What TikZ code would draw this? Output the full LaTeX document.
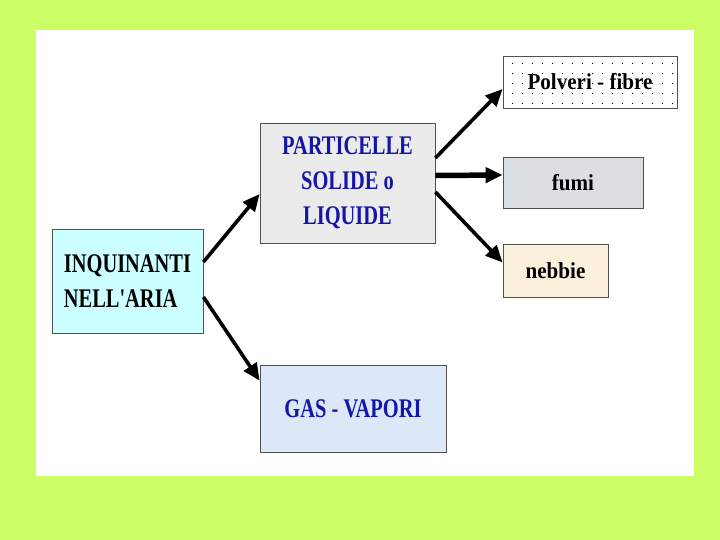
\documentclass[tikz,border=0pt]{standalone}
\usepackage{fontspec}
\newfontfamily\capsfont{Liberation Serif}[FakeStretch=0.76]
\newfontfamily\lowfont{Liberation Serif}[FakeStretch=0.92]
\usetikzlibrary{arrows.meta,patterns.meta}

\definecolor{slidebg}{HTML}{CCFF66}
\definecolor{inqfill}{HTML}{CCFFFF}
\definecolor{partfill}{HTML}{EBEBEB}
\definecolor{gasfill}{HTML}{DCE8F8}
\definecolor{fumifill}{HTML}{DCDFE2}
\definecolor{nebfill}{HTML}{FBF0DC}
\definecolor{boxtext}{HTML}{1515A8}
\definecolor{boxline}{HTML}{505050}

\tikzset{
  box/.style={draw=boxline,line width=0.8pt,inner sep=0pt,anchor=center},
  bigtext/.style={font=\capsfont\bfseries\fontsize{27}{35}\selectfont},
  smalltext/.style={font=\lowfont\bfseries\fontsize{23}{28}\selectfont},
  link/.style={line width=3.6pt,-{Triangle[length=17bp,width=15bp]}}
}

\begin{document}
\begin{tikzpicture}[x=1bp,y=-1bp]
  % slide background and white panel
  \fill[slidebg] (0,0) rectangle (720,540);
  \fill[white] (36,30) rectangle (694,476);

  % main boxes
  \node[box,bigtext,fill=inqfill,minimum width=151bp,minimum height=104bp,align=left]
    (inq) at (127.5,281) {INQUINANTI\\NELL'ARIA};
  \node[box,bigtext,fill=partfill,text=boxtext,minimum width=175bp,minimum height=120bp,align=center]
    (part) at (347.5,183) {PARTICELLE\\SOLIDE o\\LIQUIDE};
  \node[box,bigtext,fill=gasfill,text=boxtext,minimum width=186bp,minimum height=87bp]
    (gas) at (353,408.5) {GAS - VAPORI};

  % particle types
  \node[box,smalltext,fill=white,minimum width=174bp,minimum height=52bp,
    postaction={pattern={Dots[distance=9.5bp,radius=0.7bp]}}]
    (polv) at (590,82) {};
  \node[smalltext] (polvlab) at (polv.center) {Polveri - fibre};
  \node[box,smalltext,fill=fumifill,minimum width=140bp,minimum height=51bp]
    (fumi) at (573,182.5) {fumi};
  \node[box,smalltext,fill=nebfill,minimum width=105bp,minimum height=53bp]
    (neb) at (555.5,270.5) {nebbie};

  % connectors
  \draw[link] ([yshift=19bp]inq.east) -- ([yshift=-11bp]part.west);
  \draw[link] ([yshift=-16bp]inq.east) -- ([yshift=-16bp]gas.north west);
  \draw[link] ([yshift=25bp]part.east) -- ([yshift=-7bp]polv.west);
  \draw[link,line width=5.5pt] ([yshift=7.5bp]part.east) -- ([yshift=7.5bp]fumi.west);
  \draw[link] ([yshift=-9bp]part.east) -- ([yshift=8bp]neb.west);
\end{tikzpicture}
\end{document}
